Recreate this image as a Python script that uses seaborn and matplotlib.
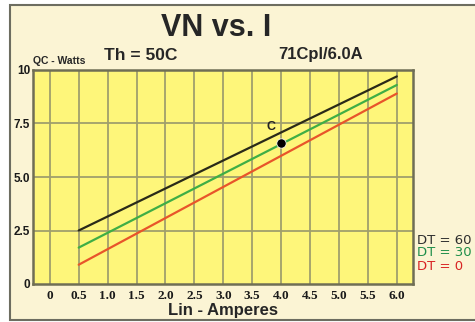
import matplotlib
matplotlib.use("Agg")
import matplotlib.pyplot as plt
from matplotlib.patches import Rectangle
from matplotlib.ticker import MultipleLocator
import seaborn as sns
import pandas as pd

# data
current = [0.5, 6.0]
qc_dt60 = [2.5, 9.7]
qc_dt30 = [1.7, 9.3]
qc_dt0 = [0.9, 8.9]
series_names = ["DT = 60", "DT = 30", "DT = 0"]
point_c = [4.0, 6.6]

x_ticks = [0, 0.5, 1.0, 1.5, 2.0, 2.5, 3.0, 3.5, 4.0, 4.5, 5.0, 5.5, 6.0]
x_labels = ["0", "0.5", "1.0", "1.5", "2.0", "2.5", "3.0", "3.5", "4.0", "4.5", "5.0", "5.5", "6.0"]
y_ticks = [0, 2.5, 5.0, 7.5, 10]
y_labels = ["0", "2.5", "5.0", "7.5", "10"]

sns.set_style("white")
plt.rcParams["font.family"] = ["Liberation Sans", "DejaVu Sans"]

df = pd.DataFrame({
    "Lin": current * 3,
    "QC": qc_dt60 + qc_dt30 + qc_dt0,
    "DT": [series_names[0]] * 2 + [series_names[1]] * 2 + [series_names[2]] * 2,
})
line_colors = {"DT = 60": "#2a2a18", "DT = 30": "#3fae45", "DT = 0": "#e8552a"}
text_colors = {"DT = 60": "#2e2e2e", "DT = 30": "#1f8f4a", "DT = 0": "#d82424"}

fig = plt.figure(figsize=(4.75, 3.22), dpi=100)
fig.patch.set_facecolor("white")
fig.patches.append(Rectangle((10 / 475, 2 / 322), 1.0, 315 / 322, transform=fig.transFigure,
                             facecolor="#fbf4d4", edgecolor="#6d6d60", linewidth=1.5, zorder=-10))

ax = fig.add_axes([33 / 475, 38 / 322, 380 / 475, 214 / 322])
ax.set_facecolor("#fef67a")

sns.lineplot(data=df, x="Lin", y="QC", hue="DT", palette=line_colors, linewidth=1.6,
             legend=False, ax=ax, zorder=3)
sns.scatterplot(x=[point_c[0]], y=[point_c[1]], color="black", s=45, ax=ax, zorder=4)
ax.text(point_c[0] - 0.17, point_c[1] + 0.45, "C", fontsize=9, fontweight="bold",
        ha="center", va="bottom", color="#222222")

ax.set_xlim(-0.29, 6.28)
ax.set_ylim(0, 10)
ax.set_xticks(x_ticks)
ax.set_xticklabels(x_labels, fontfamily="Liberation Serif", fontweight="bold", fontsize=9.5)
ax.set_yticks(y_ticks)
ax.set_yticklabels(y_labels, fontweight="bold", fontsize=8.5)
ax.yaxis.set_minor_locator(MultipleLocator(0.5))
ax.tick_params(axis="x", length=0, pad=4, colors="#1a1a1a")
ax.tick_params(axis="y", which="major", length=4, direction="in", pad=2, colors="#1a1a1a")
ax.tick_params(axis="y", which="minor", length=2.5, direction="in", color="#8a8a60")

for xv in x_ticks:
    ax.axvline(xv, color="#a09f6c", linewidth=1.3, zorder=1)
for yv in y_ticks[1:-1]:
    ax.axhline(yv, color="#a09f6c", linewidth=1.3, zorder=1)
for sp in ax.spines.values():
    sp.set_color("#6f6e55")
    sp.set_linewidth(1.8)

ax.set_xlabel("Lin - Amperes", fontsize=12, fontweight="bold", labelpad=1)
ax.set_ylabel("")

fig.text(216 / 475, 1 - 28 / 322, "VN vs. I", fontsize=22, fontweight="bold", ha="center", va="center")
fig.text(33 / 475, 1 - 61 / 322, "QC - Watts", fontsize=7.5, fontweight="bold", ha="left", va="center")
fig.text(104 / 475, 1 - 55 / 322, "Th = 50C", fontsize=12.5, fontweight="bold", ha="left", va="center")
fig.text(278 / 475, 1 - 55 / 322, "71Cpl/6.0A", fontsize=12, fontweight="bold", ha="left", va="center")

legend_y = [241, 253, 266]
for name, yy in zip(series_names, legend_y):
    fig.text(417 / 475, 1 - yy / 322, name, fontsize=9.5, color=text_colors[name],
             fontfamily="DejaVu Sans", ha="left", va="center")

fig.savefig("out.png", dpi=100, facecolor=fig.get_facecolor())
